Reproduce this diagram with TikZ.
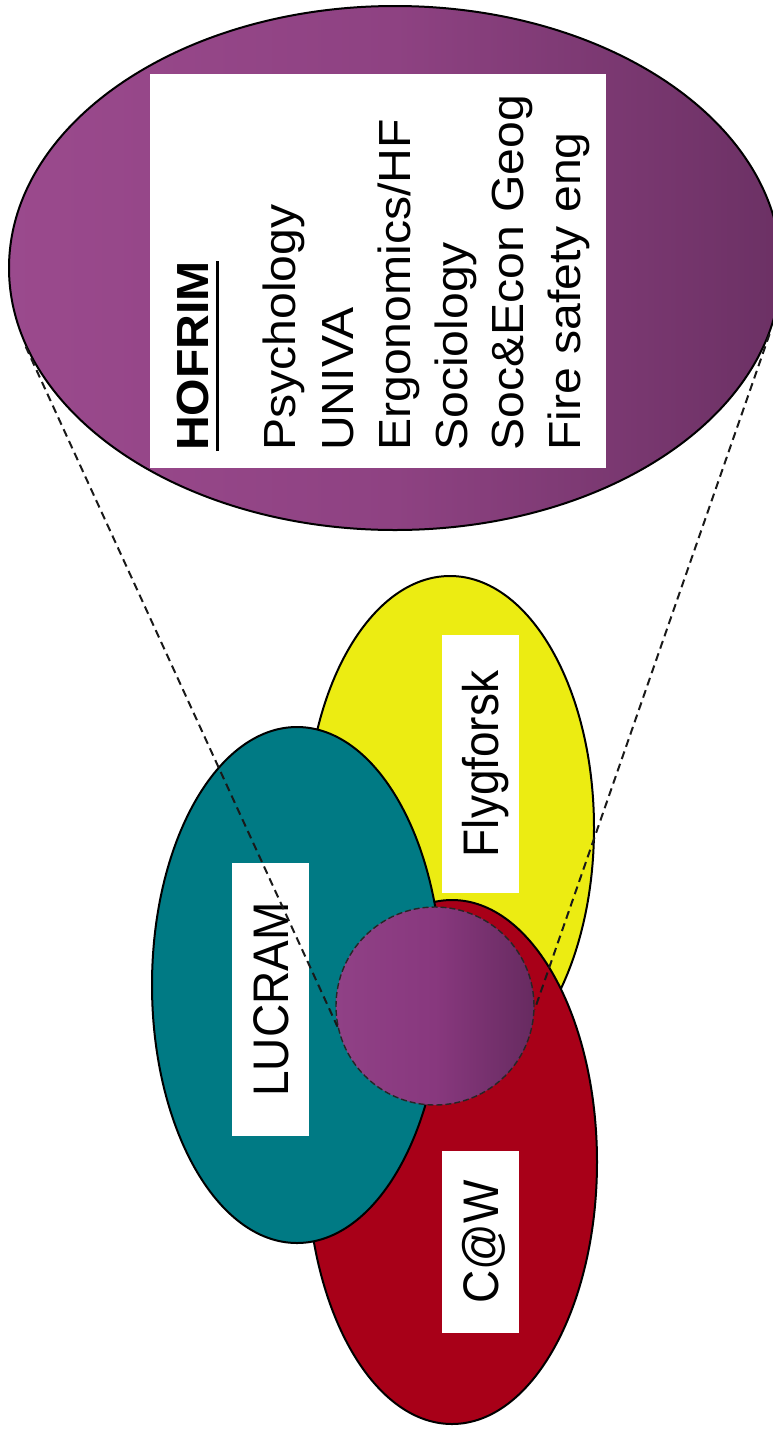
\documentclass[tikz,border=0pt]{standalone}
\usepackage{fontspec}
\setmainfont{Liberation Sans}
\usepackage{graphicx}
\usetikzlibrary{shapes.geometric}
\definecolor{tealc}{RGB}{0,122,132}
\definecolor{yellowc}{RGB}{236,236,18}
\definecolor{redc}{RGB}{168,0,24}
\definecolor{pA}{RGB}{140,64,128}
\definecolor{pB}{RGB}{158,76,144}
\definecolor{pC}{RGB}{142,66,130}
\definecolor{pD}{RGB}{98,44,92}
\definecolor{pE}{RGB}{86,38,82}
\definecolor{sA}{RGB}{152,74,142}
\definecolor{sB}{RGB}{136,56,126}
\definecolor{sC}{RGB}{96,40,90}
\definecolor{sD}{RGB}{104,48,98}
\pgfdeclarehorizontalshading{bigpurple}{100bp}{color(0bp)=(pA); color(18bp)=(pB); color(50bp)=(pC); color(82bp)=(pD); color(100bp)=(pE)}
\pgfdeclarehorizontalshading{smallpurple}{100bp}{color(0bp)=(sA); color(50bp)=(sB); color(80bp)=(sC); color(100bp)=(sD)}
\newfontfamily\itemfont{Liberation Sans}
\tikzset{
  blob/.style={ellipse, draw=black, line width=2pt, inner sep=0pt},
  labelbox/.style={rotate=90, fill=white, inner sep=0pt, text height=36pt, text depth=0pt,
    minimum height=77pt, font=\itemfont\fontsize{50}{54}\selectfont},
  listitem/.style={rotate=90, anchor=base west, inner sep=0pt, font=\itemfont\fontsize{45}{50}\selectfont},
  zoomline/.style={dash pattern=on 8pt off 5pt, line width=2pt, draw=black!90}
}
\begin{document}
\begin{tikzpicture}[x=1pt,y=-1pt]
\useasboundingbox (0,0) rectangle (773,1436);
% large zoomed ellipse
\node[blob, shade, shading=bigpurple, minimum width=772pt, minimum height=524pt] (hofrimzone) at (395,268) {};
\node[fill=white, inner sep=0pt, minimum width=456pt, minimum height=394pt] (listbox) at (378,271) {};
\node[listitem, font=\itemfont\bfseries\fontsize{45}{50}\selectfont] (hof) at (208,451) {\scalebox{1.07}[1]{HOFRIM}};
\draw[line width=3pt] ([xshift=9pt]hof.base west) -- ([xshift=9pt]hof.base east);
\node[listitem] (it1) at (295,451) {\scalebox{1.07}[1]{Psychology}};
\node[listitem] (it2) at (353,451) {\scalebox{1.07}[1]{UNIVA}};
\node[listitem] (it3) at (410,451) {\scalebox{1.07}[1]{Ergonomics/HF}};
\node[listitem] (it4) at (467,451) {\scalebox{1.07}[1]{Sociology}};
\node[listitem] (it5) at (523,451) {\scalebox{1.07}[1]{Soc\&Econ Geog}};
\node[listitem] (it6) at (580,451) {\scalebox{1.07}[1]{Fire safety eng}};
% three overlapping ellipses
\node[blob, fill=yellowc, minimum width=288pt, minimum height=504pt] (flygzone) at (450,828) {};
\node[blob, fill=redc, minimum width=290pt, minimum height=524pt] (cawzone) at (452,1162) {};
\node[blob, fill=tealc, minimum width=290pt, minimum height=516pt] (lucramzone) at (297,985) {};
% core circle
\node[circle, shade, shading=smallpurple, draw=black!85, line width=1.4pt, dash pattern=on 6pt off 3pt,
  minimum size=198pt, inner sep=0pt] (core) at (435,1006) {};
% labels
\node[labelbox, minimum width=258pt] (flyg) at (480.5,764) {\scalebox{0.92}[1]{Flygforsk}};
\node[labelbox, minimum width=273pt] (lucram) at (270,999.5) {\scalebox{0.92}[1]{LUCRAM}};
\node[labelbox, minimum width=182pt] (caw) at (480.5,1242) {\scalebox{0.92}[1]{C@W}};
% zoom lines
\draw[zoomline] (hofrimzone.192) -- (core.192);
\draw[zoomline] (hofrimzone.350) -- (core.358);
\end{tikzpicture}
\end{document}
